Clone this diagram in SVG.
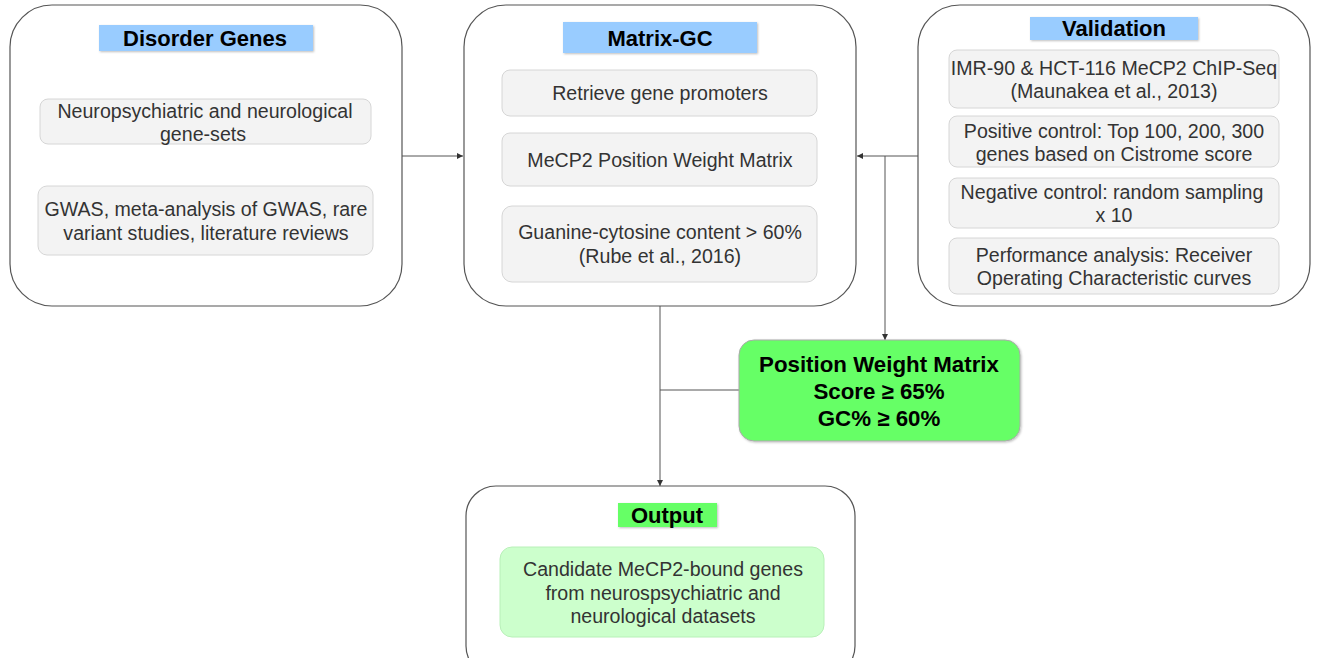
<svg xmlns="http://www.w3.org/2000/svg" width="1318" height="658" viewBox="0 0 1318 658">
<defs>
<marker id="arr" viewBox="0 0 6 6" refX="6" refY="3" markerWidth="6" markerHeight="6" orient="auto" markerUnits="userSpaceOnUse">
<path d="M0,0 L6,3 L0,6 z" fill="#333"/>
</marker>
<filter id="sh" x="-5%" y="-5%" width="110%" height="120%">
<feDropShadow dx="1" dy="1" stdDeviation="0.8" flood-color="#000" flood-opacity="0.25"/>
</filter>
</defs>
<style>
.panel{fill:#fff;stroke:#555;stroke-width:1.2}
.sub{fill:#f3f3f3;stroke:#d6d6d6;stroke-width:1}
.title{fill:#99ccff}
.gtitle{fill:#66ff66}
.tt{font-family:"Liberation Sans",Arial,sans-serif;font-weight:bold;font-size:22px;fill:#000;text-anchor:middle}
.st{font-family:"Liberation Sans",Arial,sans-serif;font-size:19.6px;fill:#333;text-anchor:middle}
.conn{fill:none;stroke:#555;stroke-width:1}
</style>
<rect width="1318" height="658" fill="#fff"/>

<g id="connectors">
<path class="conn" d="M402,156 H463" marker-end="url(#arr)"/>
<path class="conn" d="M918,156 H857" marker-end="url(#arr)"/>
<path class="conn" d="M885,156 V340" marker-end="url(#arr)"/>
<path class="conn" d="M660,306 V486" marker-end="url(#arr)"/>
<path class="conn" d="M660,390 H739"/>
</g>

<g id="disorder-genes">
<rect class="panel" x="10" y="5" width="392" height="301" rx="42"/>
<rect class="title" x="99" y="25" width="214" height="26" filter="url(#sh)"/>
<text class="tt" x="205" y="46">Disorder Genes</text>
<rect class="sub" x="40" y="99" width="331" height="45" rx="8"/>
<text class="st" x="205" y="118">Neuropsychiatric and neurological</text>
<text class="st" x="203" y="141">gene-sets</text>
<rect class="sub" x="38" y="186" width="335" height="69" rx="9"/>
<text class="st" x="206" y="216">GWAS, meta-analysis of GWAS, rare</text>
<text class="st" x="206" y="240">variant studies, literature reviews</text>
</g>

<g id="matrix-gc">
<rect class="panel" x="464" y="5" width="392" height="301" rx="42"/>
<rect class="title" x="563" y="22" width="194" height="31" filter="url(#sh)"/>
<text class="tt" x="660" y="46">Matrix-GC</text>
<rect class="sub" x="502" y="70" width="315" height="46" rx="8"/>
<text class="st" x="660" y="100">Retrieve gene promoters</text>
<rect class="sub" x="502" y="133" width="315" height="53" rx="8"/>
<text class="st" x="660" y="167">MeCP2 Position Weight Matrix</text>
<rect class="sub" x="502" y="206" width="315" height="76" rx="10"/>
<text class="st" x="660" y="239">Guanine-cytosine content &gt; 60%</text>
<text class="st" x="660" y="263">(Rube et al., 2016)</text>
</g>

<g id="validation">
<rect class="panel" x="918" y="5" width="392" height="301" rx="42"/>
<rect class="title" x="1030" y="17" width="168" height="23" filter="url(#sh)"/>
<text class="tt" x="1114" y="36">Validation</text>
<rect class="sub" x="949" y="50" width="330" height="58" rx="8"/>
<text class="st" x="1114" y="75">IMR-90 &amp; HCT-116 MeCP2 ChIP-Seq</text>
<text class="st" x="1114" y="98">(Maunakea et al., 2013)</text>
<rect class="sub" x="949" y="116" width="330" height="51" rx="8"/>
<text class="st" x="1114" y="138">Positive control: Top 100, 200, 300</text>
<text class="st" x="1114" y="161">genes based on Cistrome score</text>
<rect class="sub" x="949" y="178" width="330" height="50" rx="8"/>
<text class="st" x="1112" y="199">Negative control: random sampling</text>
<text class="st" x="1114" y="222">x 10</text>
<rect class="sub" x="949" y="238" width="330" height="56" rx="8"/>
<text class="st" x="1114" y="262">Performance analysis: Receiver</text>
<text class="st" x="1114" y="285">Operating Characteristic curves</text>
</g>

<g id="pwm">
<rect x="739" y="340" width="281" height="101" rx="15" fill="#66ff66" stroke="#aaa" stroke-width="1" filter="url(#sh)"/>
<text class="tt" x="879" y="372" style="font-size:22.3px">Position Weight Matrix</text>
<text class="tt" x="879" y="399" style="font-size:22.3px">Score ≥ 65%</text>
<text class="tt" x="879" y="426" style="font-size:22.3px">GC% ≥ 60%</text>
</g>

<g id="output">
<rect class="panel" x="466" y="486" width="389" height="190" rx="30"/>
<rect class="gtitle" x="618" y="503" width="99" height="24" filter="url(#sh)"/>
<text class="tt" x="667" y="523">Output</text>
<rect x="500" y="547" width="324" height="90" rx="12" fill="#ccffcc" stroke="#b8f0b8" stroke-width="1"/>
<text class="st" x="663" y="576">Candidate MeCP2-bound genes</text>
<text class="st" x="663" y="600">from neurospsychiatric and</text>
<text class="st" x="663" y="623">neurological datasets</text>
</g>
</svg>
